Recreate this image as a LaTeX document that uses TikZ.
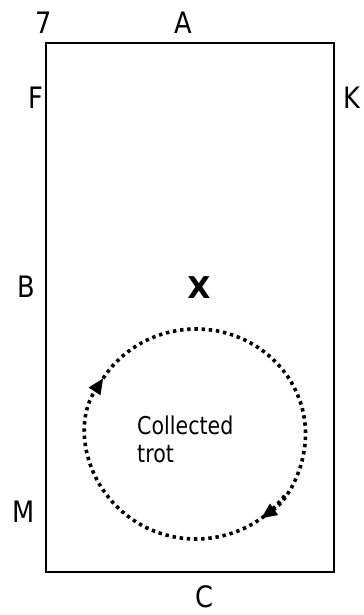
\documentclass[tikz,border=0pt]{standalone}
\usepackage{fontspec}
\setmainfont[FakeStretch=0.87]{DejaVu Sans}
\newfontfamily\boldx{DejaVu Sans Bold}
\newfontfamily\condfont[FakeStretch=0.84]{DejaVu Sans}
\usetikzlibrary{arrows.meta}
\begin{document}
\begin{tikzpicture}[x=1bp,y=1bp,
  lbl/.style={inner sep=0pt, font=\fontsize{29.5bp}{34bp}\selectfont},
  txt/.style={inner sep=0pt, anchor=base west, font=\condfont\fontsize{24.5bp}{28bp}\selectfont},
  arena/.style={draw=black, line width=1.6bp},
  ring/.style={line width=3.6bp, dash pattern=on 3.4bp off 3.8bp,
    -{Triangle[length=16bp,width=13bp]}}]
\useasboundingbox (0,0) rectangle (363,615);
\draw[arena] (46,43) rectangle (334,572);
\node[lbl] (n7) at (44,592.5) {7};
\node[lbl] (nA) at (183,592.5) {A};
\node[lbl] (nF) at (35.5,517.5) {F};
\node[lbl] (nK) at (352,517) {K};
\node[lbl] (nB) at (26.5,328.5) {B};
\node[lbl,font=\boldx\fontsize{30bp}{34bp}\selectfont] (nX) at (199,327) {X};
\node[lbl] (nM) at (24,103.5) {M};
\node[lbl] (nC) at (204,18) {C};
\node[txt] (t1) at (137,180) {Collected};
\node[txt] (t2) at (137,152) {trot};
\coordinate (ctr) at (196,181);
\draw[ring] ([shift={(-36:109.5 and 105)}]ctr) arc[start angle=-36, end angle=-212.2, x radius=109.5, y radius=105];
\draw[ring] ([shift={(148:109.5 and 105)}]ctr) arc[start angle=148, end angle=-53.6, x radius=109.5, y radius=105];
\end{tikzpicture}
\end{document}
